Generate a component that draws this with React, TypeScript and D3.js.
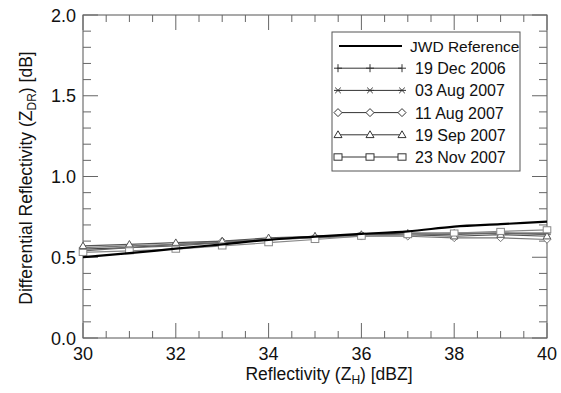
import { useEffect, useRef } from "react"
import * as d3 from "d3"

const dbz = [30, 31, 32, 33, 34, 35, 36, 37, 38, 39, 40]
const jwdRef = [0.5, 0.525, 0.553, 0.58, 0.608, 0.628, 0.645, 0.66, 0.69, 0.705, 0.72]
const dec2006 = [0.55, 0.56, 0.58, 0.59, 0.61, 0.63, 0.64, 0.65, 0.65, 0.65, 0.65]
const aug03 = [0.54, 0.56, 0.57, 0.59, 0.61, 0.62, 0.64, 0.64, 0.64, 0.65, 0.64]
const aug11 = [0.56, 0.57, 0.58, 0.6, 0.61, 0.62, 0.63, 0.63, 0.62, 0.62, 0.61]
const sep19 = [0.57, 0.58, 0.59, 0.6, 0.62, 0.63, 0.64, 0.64, 0.63, 0.64, 0.63]
const nov23 = [0.53, 0.54, 0.55, 0.57, 0.59, 0.61, 0.63, 0.64, 0.65, 0.66, 0.67]

const seriesNames = ["19 Dec 2006", "03 Aug 2007", "11 Aug 2007", "19 Sep 2007", "23 Nov 2007"]
const seriesValues = [dec2006, aug03, aug11, sep19, nov23]
const seriesMarkers = ["plus", "star", "diamond", "triangle", "square"]
const seriesColors = ["#444", "#666", "#777", "#555", "#888"]

const yTicks = [0, 0.5, 1.0, 1.5, 2.0]
const xTicks = [30, 32, 34, 36, 38, 40]

const font = "Liberation Sans, Arial, Helvetica, sans-serif"

function drawMarker(g: d3.Selection<SVGGElement, unknown, null, undefined>, kind: string, x: number, y: number, color: string, s = 3.8) {
  const m = g.append("g").attr("transform", `translate(${x},${y})`)
    .attr("fill", "white").attr("stroke", color).attr("stroke-width", 1)
  if (kind === "plus") {
    m.append("path").attr("d", `M${-s},0H${s}M0,${-s}V${s}`)
  } else if (kind === "star") {
    m.append("path").attr("d", `M${-s},0H${s}M${-s * 0.7},${-s * 0.7}L${s * 0.7},${s * 0.7}M${-s * 0.7},${s * 0.7}L${s * 0.7},${-s * 0.7}`)
  } else if (kind === "diamond") {
    m.append("path").attr("d", `M0,${-s}L${s},0L0,${s}L${-s},0Z`)
  } else if (kind === "triangle") {
    m.append("path").attr("d", `M0,${-s}L${s},${s * 0.7}L${-s},${s * 0.7}Z`)
  } else {
    m.append("rect").attr("x", -s).attr("y", -s * 0.8).attr("width", 2 * s).attr("height", 1.6 * s)
  }
}

export default function App() {
  const svgRef = useRef<SVGSVGElement>(null)

  useEffect(() => {
    if (!svgRef.current) return
    const svg = d3.select(svgRef.current)
    svg.selectAll("*").remove()

    const left = 83, right = 547, top = 15, bottom = 338
    const x = d3.scaleLinear().domain([30, 40]).range([left, right])
    const y = d3.scaleLinear().domain([0, 2]).range([bottom, top])

    const g = svg.append("g")

    // frame
    g.append("rect").attr("x", left).attr("y", top).attr("width", right - left).attr("height", bottom - top)
      .attr("fill", "none").attr("stroke", "#555").attr("stroke-width", 1)

    const ticks = g.append("g").attr("stroke", "#666").attr("stroke-width", 1)
    d3.range(0, 2.0001, 0.1).forEach(v => {
      const major = Math.abs(v * 2 - Math.round(v * 2)) < 1e-6
      const len = major ? 15 : 8
      ticks.append("line").attr("x1", left).attr("x2", left + len).attr("y1", y(v)).attr("y2", y(v))
      ticks.append("line").attr("x1", right).attr("x2", right - len).attr("y1", y(v)).attr("y2", y(v))
    })
    d3.range(30, 40.0001, 0.5).forEach(v => {
      const major = Math.abs(v / 2 - Math.round(v / 2)) < 1e-6
      const len = major ? 15 : 7
      ticks.append("line").attr("x1", x(v)).attr("x2", x(v)).attr("y1", bottom).attr("y2", bottom - len)
      ticks.append("line").attr("x1", x(v)).attr("x2", x(v)).attr("y1", top).attr("y2", top + len)
    })

    g.selectAll(".ylab").data(yTicks).enter().append("text")
      .attr("x", 76).attr("y", d => y(d) + 6.5)
      .attr("text-anchor", "end").style("font-family", font).style("font-size", "18px").style("fill", "#111")
      .text(d => d.toFixed(1))

    g.selectAll(".xlab").data(xTicks).enter().append("text")
      .attr("x", d => x(d)).attr("y", 360)
      .attr("text-anchor", "middle").style("font-family", font).style("font-size", "18px").style("fill", "#111")
      .text(d => String(d))

    // axis titles
    const xt = g.append("text").attr("x", 329).attr("y", 380).attr("text-anchor", "middle")
      .style("font-family", font).style("font-size", "17.5px").style("fill", "#111")
    xt.append("tspan").text("Reflectivity (Z")
    xt.append("tspan").attr("dy", 4).style("font-size", "12px").text("H")
    xt.append("tspan").attr("dy", -4).text(") [dBZ]")

    const yt = g.append("text").attr("transform", `translate(32,178) rotate(-90)`).attr("text-anchor", "middle")
      .style("font-family", font).style("font-size", "17.5px").style("fill", "#111")
    yt.append("tspan").text("Differential Reflectivity (Z")
    yt.append("tspan").attr("dy", 4).style("font-size", "12px").text("DR")
    yt.append("tspan").attr("dy", -4).text(") [dB]")

    const line = d3.line<number>().x((_, i) => x(dbz[i])).y(d => y(d))

    seriesValues.forEach((vals, si) => {
      g.append("path").attr("d", line(vals)).attr("fill", "none")
        .attr("stroke", seriesColors[si]).attr("stroke-width", 1.2)
    })
    seriesValues.forEach((vals, si) => {
      vals.forEach((v, i) => drawMarker(g, seriesMarkers[si], x(dbz[i]), y(v), seriesColors[si]))
    })

    const smooth = d3.line<number>().x((_, i) => x(dbz[i])).y(d => y(d)).curve(d3.curveMonotoneX)
    g.append("path").attr("d", smooth(jwdRef)).attr("fill", "none").attr("stroke", "#000").attr("stroke-width", 2.2)

    // legend
    const lg = g.append("g")
    lg.append("rect").attr("x", 332).attr("y", 32).attr("width", 188).attr("height", 139)
      .attr("fill", "white").attr("stroke", "#555").attr("stroke-width", 1)
    const rowY = (i: number) => 46 + i * 22.2
    lg.append("line").attr("x1", 339).attr("x2", 402).attr("y1", rowY(0)).attr("y2", rowY(0))
      .attr("stroke", "#000").attr("stroke-width", 2.2)
    lg.append("text").attr("x", 410).attr("y", rowY(0) + 6).style("font-family", font).style("font-size", "15.5px")
      .style("fill", "#111").text("JWD Reference")
    seriesNames.forEach((name, si) => {
      const yy = rowY(si + 1)
      lg.append("line").attr("x1", 337).attr("x2", 402).attr("y1", yy).attr("y2", yy)
        .attr("stroke", "#333").attr("stroke-width", 1)
      ;[338, 370, 402].forEach(px => drawMarker(lg, seriesMarkers[si], px, yy, "#333", 4))
      lg.append("text").attr("x", 415).attr("y", yy + 6).style("font-family", font).style("font-size", "16px")
        .style("fill", "#111").text(name)
    })
  }, [])

  return (
    <svg ref={svgRef} width={561} height={393}
      style={{ position: "absolute", left: 0, top: 0, background: "white" }} />
  )
}
